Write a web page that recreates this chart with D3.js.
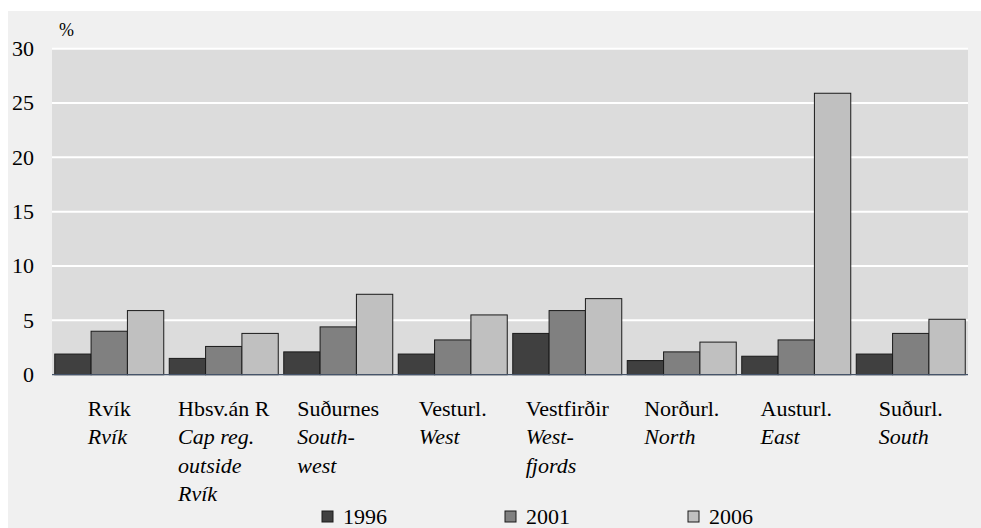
<!DOCTYPE html>
<html><head><meta charset="utf-8">
<script src="https://cdn.jsdelivr.net/npm/d3@7"></script>
<style>body{margin:0;background:#fff}svg{display:block}svg text{font-family:"Liberation Serif","Times New Roman",Times,"DejaVu Serif",serif}</style>
</head><body>
<svg id="c" width="981" height="528"></svg>
<script>
const categories = ["Rvík","Hbsv.án R","Suðurnes","Vesturl.","Vestfirðir","Norðurl.","Austurl.","Suðurl."];
const categoriesEn = [["Rvík"],["Cap reg.","outside","Rvík"],["South-","west"],["West"],["West-","fjords"],["North"],["East"],["South"]];
const years = ["1996","2001","2006"];
const v1996 = [1.9,1.5,2.1,1.9,3.8,1.3,1.7,1.9];
const v2001 = [4.0,2.6,4.4,3.2,5.9,2.1,3.2,3.8];
const v2006 = [5.9,3.8,7.4,5.5,7.0,3.0,25.9,5.1];
const yTicks = [0,5,10,15,20,25,30];
const colors = ["#404040","#808080","#c0c0c0"];
const series = [v1996, v2001, v2006];

const svg = d3.select("#c");
const L = 52, R = 968, T = 48.7, B = 374.7;

svg.append("rect").attr("x",8).attr("y",11).attr("width",973).attr("height",517).attr("fill","#f0f0f0");
svg.append("rect").attr("x",L).attr("y",T).attr("width",R-L).attr("height",B-T).attr("fill","#dcdcdc");

const y = d3.scaleLinear().domain([0,30]).range([B,T]);
const x = d3.scaleBand().domain(categories).range([L,R]).paddingInner(0.048).paddingOuter(0.024);
const xi = d3.scaleBand().domain(years).range([0,x.bandwidth()]);

// gridlines
svg.append("g").selectAll("line").data(yTicks.filter(d=>d>0)).join("line")
  .attr("x1",L).attr("x2",R).attr("y1",d=>y(d)).attr("y2",d=>y(d))
  .attr("stroke","#ffffff").attr("stroke-width",2);

// y labels
svg.append("g").selectAll("text").data(yTicks).join("text")
  .attr("x",34).attr("y",d=>y(d)).attr("dy","0.33em").attr("text-anchor","end")
  .attr("font-size",22).attr("fill","#000").text(d=>d);

svg.append("text").attr("x",59).attr("y",36).attr("font-size",18).text("%");

// bars
const g = svg.append("g").selectAll("g").data(categories).join("g")
  .attr("transform",d=>`translate(${x(d)},0)`);
g.selectAll("rect").data((d,i)=>years.map((yr,j)=>({yr, v:series[j][i], j}))).join("rect")
  .attr("x",d=>xi(d.yr)).attr("width",xi.bandwidth())
  .attr("y",d=>y(d.v)).attr("height",d=>B-y(d.v))
  .attr("fill",d=>colors[d.j]).attr("stroke","#1a1a1a").attr("stroke-width",1);

// baseline
svg.append("line").attr("x1",L).attr("x2",R).attr("y1",B).attr("y2",B).attr("stroke","#46546a").attr("stroke-width",1.2);

// category labels
categories.forEach((c,i)=>{
  const cx = x(c)+x.bandwidth()/2;
  const t = svg.append("text").attr("x",cx).attr("y",416).attr("text-anchor","middle")
    .attr("font-size",22).attr("fill","#000").text(c);
  const w = t.node().getComputedTextLength();
  const x0 = cx - w/2;
  categoriesEn[i].forEach((ln,k)=>{
    svg.append("text").attr("x",x0).attr("y",444+k*28.5)
      .attr("font-style","italic").attr("font-size",22).attr("fill","#000").text(ln);
  });
});

// legend
const lx = [322,505,688];
years.forEach((yr,j)=>{
  svg.append("rect").attr("x",lx[j]).attr("y",511).attr("width",11).attr("height",11)
    .attr("fill",colors[j]).attr("stroke","#1a1a1a").attr("stroke-width",1);
  svg.append("text").attr("x",lx[j]+21).attr("y",524).attr("font-size",22).attr("fill","#000").text(yr);
});
</script>
</body></html>
